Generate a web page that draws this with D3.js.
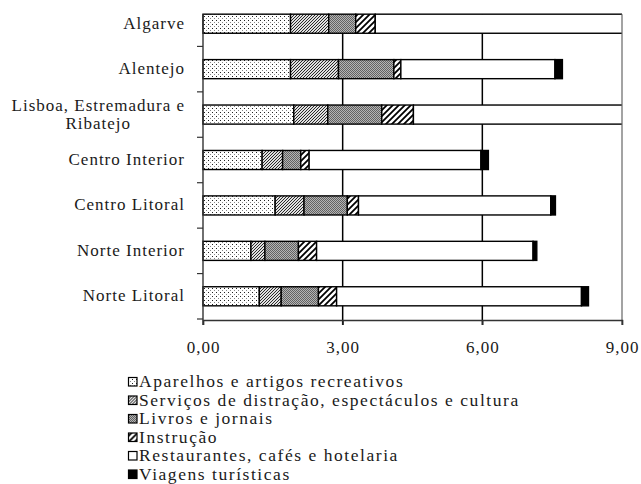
<!DOCTYPE html>
<html>
<head>
<meta charset="utf-8">
<script src="https://cdn.jsdelivr.net/npm/d3@7"></script>
<style>
  body { margin: 0; background: #fff; }
  text { font-family: "Liberation Serif", "Times New Roman", serif; fill: #1a1a1a; }
</style>
</head>
<body>
<svg id="chart" width="641" height="484"></svg>
<script>
// regions, top to bottom
var categories = ["Algarve", "Alentejo", "Lisboa, Estremadura e Ribatejo", "Centro Interior",
  "Centro Litoral", "Norte Interior", "Norte Litoral"];

var seriesNames = ["Aparelhos e artigos recreativos",
  "Serviços de distração, espectáculos e cultura",
  "Livros e jornais", "Instrução",
  "Restaurantes, cafés e hotelaria", "Viagens turísticas"];

var aparelhos    = [1.88, 1.88, 1.95, 1.27, 1.55, 1.03, 1.21];
var servicos     = [0.82, 1.03, 0.73, 0.44, 0.62, 0.30, 0.47];
var livros       = [0.58, 1.19, 1.16, 0.39, 0.93, 0.72, 0.80];
var instrucao    = [0.42, 0.15, 0.68, 0.18, 0.24, 0.39, 0.39];
var restaurantes = [7.00, 3.31, 6.50, 3.69, 4.13, 4.65, 5.26];
var viagens      = [0.30, 0.16, 0.30, 0.16, 0.10, 0.08, 0.15];

var xTicks = [0, 3, 6, 9];

var svg = d3.select("#chart");
var plotLeft = 203, plotRight = 622, bandTop = 1, bandBottom = 319, axisY = 320;

var rows = categories.map(function (c, i) {
  return { cat: c, s0: aparelhos[i], s1: servicos[i], s2: livros[i], s3: instrucao[i], s4: restaurantes[i], s5: viagens[i] };
});
var keys = ["s0", "s1", "s2", "s3", "s4", "s5"];
var stacked = d3.stack().keys(keys)(rows);

var x = d3.scaleLinear().domain([0, 9]).range([plotLeft, plotRight]);
var y = d3.scaleBand().domain(categories).range([bandTop, bandBottom]).paddingInner(0.58).paddingOuter(0.29);
var frameTop = y(categories[0]);

// patterns
var defs = svg.append("defs");
var p;
p = defs.append("pattern").attr("id", "pat0").attr("patternUnits", "userSpaceOnUse").attr("width", 4).attr("height", 4);
p.append("rect").attr("width", 4).attr("height", 4).attr("fill", "#fff");
p.append("rect").attr("x", 0).attr("y", 0).attr("width", 1).attr("height", 1).attr("fill", "#222");
p.append("rect").attr("x", 2).attr("y", 2).attr("width", 1).attr("height", 1).attr("fill", "#888");

p = defs.append("pattern").attr("id", "pat1").attr("patternUnits", "userSpaceOnUse").attr("width", 3).attr("height", 3);
p.append("rect").attr("width", 3).attr("height", 3).attr("fill", "#e0e0e0");
p.append("path").attr("d", "M-1,1 L1,-1 M0,3 L3,0 M2,4 L4,2").attr("stroke", "#2a2a2a").attr("stroke-width", 1);

p = defs.append("pattern").attr("id", "pat2").attr("patternUnits", "userSpaceOnUse").attr("width", 2).attr("height", 2);
p.append("rect").attr("width", 2).attr("height", 2).attr("fill", "#b4b4b4");
p.append("rect").attr("width", 1).attr("height", 1).attr("fill", "#626262");
p.append("rect").attr("x", 1).attr("y", 1).attr("width", 1).attr("height", 1).attr("fill", "#626262");

p = defs.append("pattern").attr("id", "pat3").attr("patternUnits", "userSpaceOnUse").attr("width", 6).attr("height", 6);
p.append("rect").attr("width", 6).attr("height", 6).attr("fill", "#fff");
p.append("path").attr("d", "M-1.5,1.5 L1.5,-1.5 M0,6 L6,0 M4.5,7.5 L7.5,4.5").attr("stroke", "#000").attr("stroke-width", 1.8);

var fills = ["url(#pat0)", "url(#pat1)", "url(#pat2)", "url(#pat3)", "#fff", "#000"];

defs.append("clipPath").attr("id", "plotclip")
  .append("rect").attr("x", plotLeft - 2).attr("y", 0).attr("width", plotRight - plotLeft + 2).attr("height", axisY);

// gridlines
svg.append("g").selectAll("line")
  .data(xTicks.slice(1, 3))
  .enter().append("line")
  .attr("x1", function (d) { return x(d); }).attr("x2", function (d) { return x(d); })
  .attr("y1", frameTop).attr("y2", axisY + 5)
  .attr("stroke", "#000").attr("stroke-width", 1.5);

// bars
var barG = svg.append("g").attr("clip-path", "url(#plotclip)");
barG.selectAll("g.series")
  .data(stacked)
  .enter().append("g")
  .attr("class", "series")
  .attr("fill", function (d, i) { return fills[i]; })
  .selectAll("rect")
  .data(function (d) { return d; })
  .enter().append("rect")
  .attr("x", function (d) { return x(d[0]); })
  .attr("y", function (d) { return y(d.data.cat); })
  .attr("width", function (d) { return x(d[1]) - x(d[0]); })
  .attr("height", y.bandwidth())
  .attr("stroke", "#000").attr("stroke-width", 1.4);

// right frame
svg.append("line").attr("x1", plotRight).attr("x2", plotRight)
  .attr("y1", frameTop).attr("y2", axisY + 5)
  .attr("stroke", "#666").attr("stroke-width", 1.2);

// x axis
var xAxis = d3.axisBottom(x).tickValues(xTicks).tickSize(5).tickPadding(16)
  .tickFormat(function (d) { return d3.format(".2f")(d).replace(".", ","); });
var gx = svg.append("g").attr("transform", "translate(0," + axisY + ")").call(xAxis);
gx.select(".domain").attr("stroke", "#333").attr("stroke-width", 1.4);
gx.selectAll(".tick line").attr("stroke", "#333").attr("stroke-width", 1.4);
gx.selectAll("text").style("font-size", "17px").style("letter-spacing", "1px")
  .style("font-family", "'Liberation Serif', serif").attr("fill", "#1a1a1a");

// y axis line and boundary ticks
svg.append("line").attr("x1", plotLeft).attr("x2", plotLeft)
  .attr("y1", frameTop).attr("y2", axisY + 5)
  .attr("stroke", "#333").attr("stroke-width", 1.4);
svg.append("g").selectAll("line")
  .data(categories)
  .enter().append("line")
  .attr("x1", plotLeft - 6).attr("x2", plotLeft)
  .attr("y1", function (d) { return y(d) + y.bandwidth() + y.step() * y.paddingInner() / 2; })
  .attr("y2", function (d) { return y(d) + y.bandwidth() + y.step() * y.paddingInner() / 2; })
  .attr("stroke", "#333").attr("stroke-width", 1.2);

// category labels, wrapped when too long
var labelRight = 185;
var lab = svg.append("g").selectAll("text")
  .data(categories)
  .enter().append("text")
  .style("font-size", "17px").style("letter-spacing", "1px")
  .attr("text-anchor", "end")
  .attr("x", labelRight)
  .attr("y", function (d) { return y(d) + y.bandwidth() / 2 + 5; })
  .text(function (d) { return d; });

lab.each(function (d) {
  var t = d3.select(this);
  if (this.getComputedTextLength() <= 180) return;
  var words = d.split(" "), lines = [], line = [];
  t.text(null);
  var probe = t.append("tspan");
  words.forEach(function (w) {
    line.push(w);
    probe.text(line.join(" "));
    if (probe.node().getComputedTextLength() > 180 && line.length > 1) {
      line.pop(); lines.push(line.join(" ")); line = [w];
    }
  });
  lines.push(line.join(" "));
  probe.text(lines[0]);
  var w0 = probe.node().getComputedTextLength();
  probe.remove();
  var cy = y(d) + y.bandwidth() / 2 + 5 - (lines.length - 1) * 9;
  t.attr("text-anchor", "middle");
  lines.forEach(function (l, k) {
    t.append("tspan").attr("x", labelRight - w0 / 2).attr("y", cy + k * 18).text(l);
  });
});

// legend
var legend = svg.append("g").selectAll("g")
  .data(seriesNames)
  .enter().append("g")
  .attr("transform", function (d, i) { return "translate(128," + (387 + i * 18.5) + ")"; });
legend.append("rect")
  .attr("x", 0.5).attr("y", -9.5).attr("width", 8.5).attr("height", 8.5)
  .attr("fill", function (d, i) { return fills[i]; })
  .attr("stroke", "#000").attr("stroke-width", 1.2);
legend.append("text")
  .attr("x", 11).attr("y", 0)
  .style("font-size", "17.5px").style("letter-spacing", "1.55px")
  .text(function (d) { return d; });
</script>
</body>
</html>
